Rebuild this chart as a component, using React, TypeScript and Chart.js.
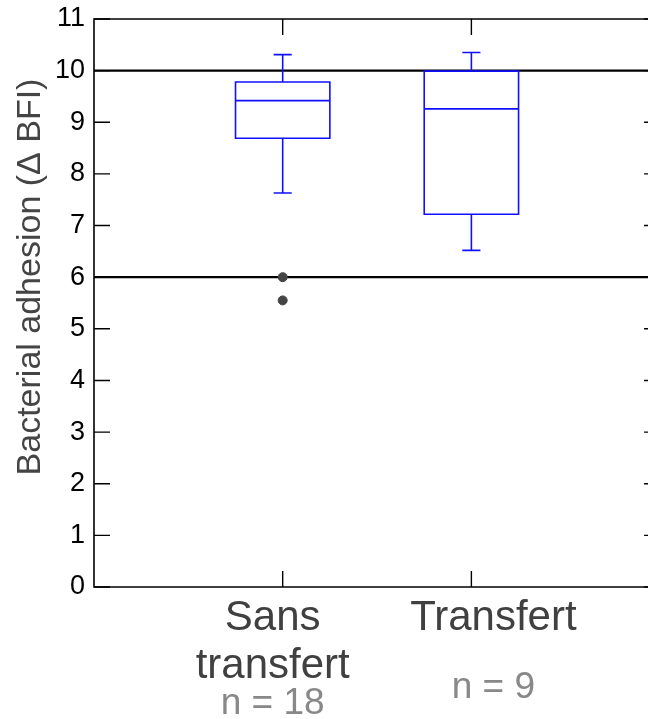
import React, { useEffect, useRef } from "react";
import { Chart, registerables } from "chart.js";

Chart.register(...registerables);

// ---- data ----
const categories = ["Sans transfert", "Transfert"];
const categoryLines = [["Sans", "transfert"], ["Transfert"]];
const sampleSizes = ["n = 18", "n = 9"];
const whiskerLow = [7.63, 6.52];
const q1 = [8.69, 7.22];
const median = [9.42, 9.26];
const q3 = [9.78, 9.99];
const whiskerHigh = [10.31, 10.35];
const outliersSans = [6.0, 5.55];
const outliersTransfert: number[] = [];
const referenceLines = [10, 6];
const yTicks = [0, 1, 2, 3, 4, 5, 6, 7, 8, 9, 10, 11];
const yTitle = "Bacterial adhesion (\u0394 BFI)";

const FONT = "'Liberation Sans', Arial, Helvetica, sans-serif";
const BLUE = "#1010ff";
// horizontal nudges of the category label blocks (pixels)
const LABEL_NUDGE = [-10, 22];

const boxPlugin = {
  id: "boxplotDraw",
  beforeDatasetsDraw(chart: any) {
    const { ctx, chartArea, scales } = chart;
    const x = scales.x;
    const y = scales.y;
    const W = chart.width;
    ctx.save();
    // frame
    ctx.strokeStyle = "#000";
    ctx.lineWidth = 1.6;
    ctx.beginPath();
    ctx.moveTo(chartArea.left, y.getPixelForValue(11));
    ctx.lineTo(W, y.getPixelForValue(11));
    ctx.moveTo(chartArea.left, y.getPixelForValue(0));
    ctx.lineTo(W, y.getPixelForValue(0));
    ctx.moveTo(chartArea.left, y.getPixelForValue(11) - 0.8);
    ctx.lineTo(chartArea.left, y.getPixelForValue(0) + 0.8);
    ctx.stroke();
    // reference lines
    ctx.lineWidth = 2.2;
    referenceLines.forEach((v) => {
      const py = y.getPixelForValue(v);
      ctx.beginPath();
      ctx.moveTo(chartArea.left, py);
      ctx.lineTo(W, py);
      ctx.stroke();
    });
    // ticks inward
    ctx.lineWidth = 1.4;
    const tl = 16;
    const rightAxis = x.getPixelForValue(3);
    yTicks.forEach((v) => {
      const py = y.getPixelForValue(v);
      ctx.beginPath();
      ctx.moveTo(chartArea.left, py);
      ctx.lineTo(chartArea.left + tl, py);
      ctx.moveTo(rightAxis - tl, py);
      ctx.lineTo(rightAxis, py);
      ctx.stroke();
    });
    categories.forEach((_, i) => {
      const px = x.getPixelForValue(i + 1);
      const top = y.getPixelForValue(11);
      const bot = y.getPixelForValue(0);
      ctx.beginPath();
      ctx.moveTo(px, top);
      ctx.lineTo(px, top + tl);
      ctx.moveTo(px, bot);
      ctx.lineTo(px, bot - tl);
      ctx.stroke();
    });
    // boxes
    ctx.strokeStyle = BLUE;
    ctx.lineWidth = 1.6;
    categories.forEach((_, i) => {
      const pos = i + 1;
      const cx = x.getPixelForValue(pos);
      const l = x.getPixelForValue(pos - 0.25);
      const r = x.getPixelForValue(pos + 0.25);
      const cl = x.getPixelForValue(pos - 0.048);
      const cr = x.getPixelForValue(pos + 0.048);
      const yq1 = y.getPixelForValue(q1[i]);
      const yq3 = y.getPixelForValue(q3[i]);
      const ym = y.getPixelForValue(median[i]);
      const ylo = y.getPixelForValue(whiskerLow[i]);
      const yhi = y.getPixelForValue(whiskerHigh[i]);
      ctx.beginPath();
      ctx.rect(l, yq3, r - l, yq1 - yq3);
      ctx.moveTo(l, ym);
      ctx.lineTo(r, ym);
      ctx.moveTo(cx, yq3);
      ctx.lineTo(cx, yhi);
      ctx.moveTo(cl, yhi);
      ctx.lineTo(cr, yhi);
      ctx.moveTo(cx, yq1);
      ctx.lineTo(cx, ylo);
      ctx.moveTo(cl, ylo);
      ctx.lineTo(cr, ylo);
      ctx.stroke();
    });
    ctx.restore();
  },
  afterDraw(chart: any) {
    const { ctx, scales } = chart;
    const x = scales.x;
    const y = scales.y;
    const base = y.getPixelForValue(0);
    ctx.save();
    ctx.textAlign = "center";
    ctx.textBaseline = "alphabetic";
    // category labels
    ctx.fillStyle = "#404040";
    ctx.font = `42px ${FONT}`;
    categoryLines.forEach((lines, i) => {
      const px = x.getPixelForValue(i + 1) + LABEL_NUDGE[i];
      lines.forEach((t, j) => {
        ctx.fillText(t, px, base + 43 + j * 48);
      });
    });
    ctx.fillStyle = "#888888";
    ctx.font = `37px ${FONT}`;
    sampleSizes.forEach((t, i) => {
      const px = x.getPixelForValue(i + 1) + LABEL_NUDGE[i];
      const lines = categoryLines[i].length;
      ctx.fillText(t, px, base + (lines > 1 ? 127 : 111));
    });
    // y title
    ctx.fillStyle = "#444444";
    ctx.font = `34px ${FONT}`;
    ctx.translate(31, 277);
    ctx.rotate(-Math.PI / 2);
    ctx.textBaseline = "middle";
    ctx.fillText(yTitle, 0, 0);
    ctx.restore();
  },
};

export default function App() {
  const ref = useRef<HTMLCanvasElement | null>(null);
  useEffect(() => {
    if (!ref.current) return;
    const outlierPoints = [
      ...outliersSans.map((v) => ({ x: 1, y: v })),
      ...outliersTransfert.map((v) => ({ x: 2, y: v })),
    ];
    const chart = new Chart(ref.current, {
      type: "scatter",
      data: {
        datasets: [
          {
            label: "outliers",
            data: outlierPoints,
            backgroundColor: "#444444",
            borderColor: "#444444",
            pointRadius: 4.5,
            pointHoverRadius: 4.5,
          },
        ],
      },
      options: {
        animation: false,
        responsive: false,
        events: [],
        layout: {
          autoPadding: false,
          padding: { top: 19, bottom: 132, left: 0, right: 0 },
        },
        plugins: {
          legend: { display: false },
          tooltip: { enabled: false },
          title: { display: false },
        },
        scales: {
          x: {
            type: "linear",
            display: false,
            min: 0,
            max: 2.936,
          },
          y: {
            type: "linear",
            min: 0,
            max: 11,
            afterFit: (s: any) => {
              s.width = 94;
              s.paddingTop = 0;
              s.paddingBottom = 0;
            },
            afterBuildTicks: (s: any) => {
              s.ticks = yTicks.map((v) => ({ value: v }));
            },
            ticks: {
              color: "#000",
              font: { family: FONT, size: 27 },
              padding: 9,
            },
            grid: { display: false, drawTicks: false },
            border: { display: false },
          },
        },
      },
      plugins: [boxPlugin],
    });
    return () => chart.destroy();
  }, []);
  return (
    <canvas
      ref={ref}
      width={648}
      height={719}
      style={{ position: "absolute", left: 0, top: 0, display: "block" }}
    />
  );
}
